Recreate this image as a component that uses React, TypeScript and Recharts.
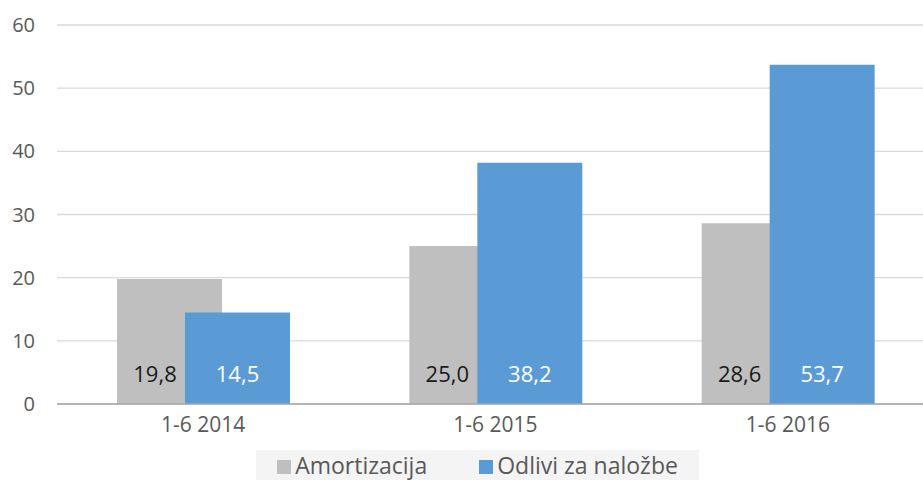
import { Bar, BarChart, CartesianGrid, LabelList, XAxis, YAxis } from "recharts";

const categories = ["1-6 2014", "1-6 2015", "1-6 2016"];
const amortizacija = [19.8, 25.0, 28.6];
const odlivi = [14.5, 38.2, 53.7];
const yTicks = [0, 10, 20, 30, 40, 50, 60];

const seriesNames = ["Amortizacija", "Odlivi za naložbe"];
const GREY = "#BFBFBF";
const BLUE = "#5B9BD5";
const FONT = "'Open Sans', sans-serif";

const BAR_SIZE = 105;
const BAR_GAP = -37;

const data = categories.map((name, i) => ({
  name,
  amortizacija: amortizacija[i],
  odlivi: odlivi[i],
}));

const fmt = (v: number) => v.toFixed(1).replace(".", ",");

// grey bar is partly hidden behind the blue one, so center its label on the visible part
function GreyLabel(props: any) {
  const { x, y, height, value } = props;
  const visible = BAR_SIZE + BAR_GAP;
  return (
    <text x={x + visible / 2 + 4} y={y + height - 22} textAnchor="middle" fill="#1a1a1a" fontSize={22} fontFamily={FONT}>
      {fmt(value)}
    </text>
  );
}

function BlueLabel(props: any) {
  const { x, y, width, height, value } = props;
  return (
    <text x={x + width / 2} y={y + height - 22} textAnchor="middle" fill="#ffffff" fontSize={22} fontFamily={FONT}>
      {fmt(value)}
    </text>
  );
}

export default function App() {
  return (
    <div style={{ position: "absolute", left: 0, top: 0, width: 923, height: 480, background: "#fff", overflow: "hidden" }}>
      <BarChart
        width={923}
        height={480}
        data={data}
        margin={{ top: 25, right: -11, bottom: 46, left: 0 }}
        barGap={BAR_GAP}
        barSize={BAR_SIZE}
      >
        <CartesianGrid vertical={false} stroke="#d9d9d9" strokeWidth={1.3} />
        <XAxis
          dataKey="name"
          height={30}
          tickLine={false}
          tickSize={0}
          tickMargin={13}
          axisLine={{ stroke: "#a6a6a6", strokeWidth: 1.5 }}
          tick={{ fill: "#595959", fontSize: 21, fontFamily: FONT }}
        />
        <YAxis
          width={57}
          domain={[0, 60]}
          ticks={yTicks}
          tickLine={false}
          tickSize={0}
          tickMargin={22}
          axisLine={false}
          tick={{ fill: "#595959", fontSize: 20, fontFamily: FONT }}
        />
        <Bar dataKey="amortizacija" fill={GREY} isAnimationActive={false}>
          <LabelList dataKey="amortizacija" content={GreyLabel} />
        </Bar>
        <Bar dataKey="odlivi" fill={BLUE} isAnimationActive={false}>
          <LabelList dataKey="odlivi" content={BlueLabel} />
        </Bar>
      </BarChart>
      <div
        style={{
          position: "absolute",
          left: 256,
          top: 450,
          width: 443,
          height: 30,
          background: "#f4f4f4",
          display: "flex",
          alignItems: "center",
          justifyContent: "center",
          gap: 52,
          fontFamily: FONT,
          fontSize: 23,
          lineHeight: "28px",
          color: "#595959",
        }}
      >
        {seriesNames.map((s, i) => (
          <div key={s} style={{ display: "flex", alignItems: "center", gap: 4 }}>
            <span style={{ width: 14, height: 14, background: i === 0 ? GREY : BLUE, display: "inline-block", marginTop: 4 }} />
            <span>{s}</span>
          </div>
        ))}
      </div>
    </div>
  );
}
